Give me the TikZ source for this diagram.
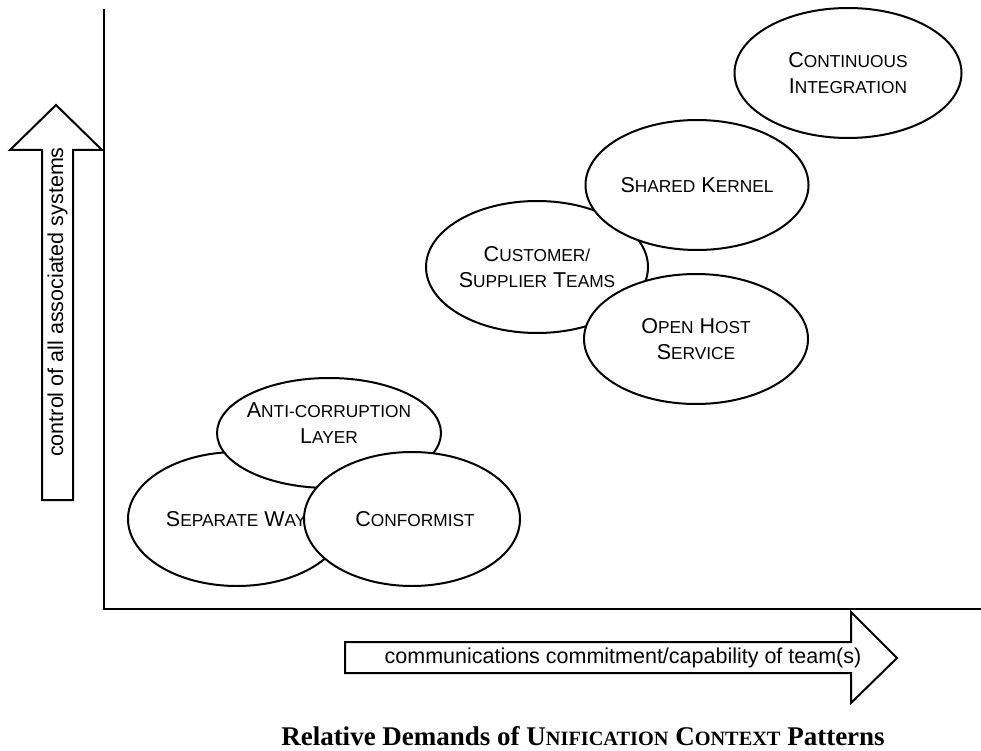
\documentclass[tikz,border=0pt]{standalone}
\usepackage{fontspec}
\setmainfont{Liberation Sans}
\newfontfamily\titleserif{Liberation Serif}
\usetikzlibrary{shapes.geometric}

% label sizes (picture units are 1pt)
\newcommand\lblfont{\fontsize{21.5}{26}\selectfont}
\newcommand\scpart[1]{{\fontsize{17.3}{26}\selectfont #1}}
\newcommand\titlesc[1]{{\fontsize{20.3}{26}\selectfont #1}}

\tikzset{
  pattern/.style={ellipse, draw, fill=white, line width=2pt, inner sep=0pt,
                  align=center, font=\lblfont},
  plaintext/.style={inner sep=0pt, align=center, font=\lblfont},
  blockarrow/.style={draw, line width=2pt, line join=miter},
  axisline/.style={line width=2.8pt},
}

\begin{document}
\begin{tikzpicture}[x=1pt,y=-1pt]
\useasboundingbox (0,0) rectangle (981,751);

% axes
\coordinate (ytop) at (104,9);
\coordinate (origin) at (104,609);
\coordinate (xend) at (981,609);
\draw[axisline] (ytop) -- (origin) -- (xend);

% vertical block arrow
\draw[blockarrow] (42,500) -- (42,150) -- (10,150) -- (56,105) -- (102,150)
  -- (73,150) -- (73,500) -- cycle;
\node[plaintext, rotate=90] (yaxis-label) at (57.5,302) {control of all associated systems};

% horizontal block arrow
\draw[blockarrow] (345,642) -- (851,642) -- (851,612) -- (897,658) -- (851,703)
  -- (851,673) -- (345,673) -- cycle;
\node[plaintext] (xaxis-label) at (623,658) {communications commitment/capability of team(s)};

% lower group
\node[pattern, minimum width=218pt, minimum height=134pt] (sep) at (237,519) {};
\node[plaintext] (sep-text) at (242,519) {S\scpart{EPARATE} W\scpart{AYS}};
\node[pattern, minimum width=224pt, minimum height=110pt] (acl) at (329,433) {};
\node[plaintext] (acl-text) at (329,423) {A\scpart{NTI-CORRUPTION}\\L\scpart{AYER}};
\node[pattern, minimum width=216pt, minimum height=134pt] (conf) at (412,519) {};
\node[plaintext] (conf-text) at (415,519) {C\scpart{ONFORMIST}};

% upper group
\node[pattern, minimum width=222pt, minimum height=132pt] (cust) at (537,267)
  {C\scpart{USTOMER/}\\S\scpart{UPPLIER} T\scpart{EAMS}};
\node[pattern, minimum width=223pt, minimum height=130pt] (kernel) at (697,185)
  {S\scpart{HARED} K\scpart{ERNEL}};
\node[pattern, minimum width=224pt, minimum height=130pt] (host) at (696,339)
  {O\scpart{PEN} H\scpart{OST}\\S\scpart{ERVICE}};
\node[pattern, minimum width=227pt, minimum height=130pt] (ci) at (848,73)
  {C\scpart{ONTINUOUS}\\I\scpart{NTEGRATION}};

% caption
\node[inner sep=0pt, anchor=base, font={\titleserif\bfseries\fontsize{27}{30}\selectfont}]
  (caption) at (583,745)
  {Relative Demands of U\titlesc{NIFICATION} C\titlesc{ONTEXT} Patterns};
\end{tikzpicture}
\end{document}
